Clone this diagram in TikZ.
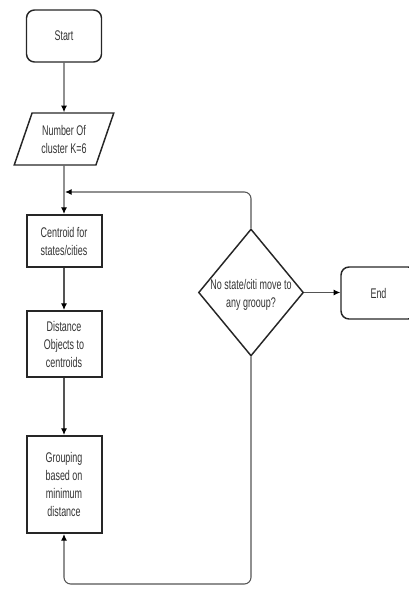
\documentclass[tikz,border=0pt]{standalone}
\usepackage{fontspec}
\usepackage{tikz}
\usepackage{xcolor}
\usetikzlibrary{arrows.meta,calc,positioning,shapes,shapes.geometric}
\newfontfamily\flowfont[FakeStretch=0.64]{Liberation Sans}
\definecolor{linegray}{rgb}{0.33,0.33,0.33}
\definecolor{textgray}{rgb}{0.2,0.2,0.2}

\begin{document}
\begin{tikzpicture}[x=0.75pt,y=-0.75pt]
        \tikzstyle{txt}=[font=\flowfont\fontsize{10.5}{13.5}\selectfont,%
          text=textgray,align=center,inner sep=0pt]
        \tikzstyle{terminal}=[txt,draw=black!85,line width=1.1pt,rounded corners=6pt,%
          minimum width=56.25pt,minimum height=39pt]
        \tikzstyle{io}=[txt,trapezium,draw=black!85,line width=1.1pt,%
          trapezium left angle=66,trapezium right angle=114,trapezium stretches=true,%
          minimum width=75pt,minimum height=39pt]
        \tikzstyle{process}=[txt,draw=black!85,line width=1.5pt,minimum width=56.25pt]
        \tikzstyle{decision}=[diamond,draw=black!85,line width=1.1pt,inner sep=0pt,%
          minimum width=78.75pt,minimum height=95.25pt]
        \tikzstyle{flow}=[draw=linegray,line width=0.8pt,rounded corners=5pt,%
          -{Latex[length=5pt,width=4.5pt,color=black]}]

      \useasboundingbox (0,0) rectangle (409,613);

      \node[terminal] (start) at (64,36) {Start};
      \node[io] (num) at (64,139) {Number Of\\cluster K=6};
      \node[process,minimum height=39pt] (cent) at (64,241) {Centroid for\\states/cities};
      \node[process,minimum height=49.5pt] (dist) at (64,344) {Distance\\Objects to\\centroids};
      \node[process,minimum height=72.75pt] (group) at (64,484.5) {Grouping\\based on\\minimum\\distance};
      \node[decision] (dec) at (251,292.5) {};
      \node[txt] (dectext) at (251,295) {No state/citi move to\\any grooup?};
      \node[terminal] (stop) at (378.5,293) {End};

      \coordinate (join) at (65,192);
      \coordinate (loop) at (64,584);

      \path [flow] (start) -- (num);
      \path [flow] (num) -- (cent);
      \path [flow] (cent) -- (dist);
      \path [flow] (dist) -- (group);
      \path [flow] (dec.north) |- (join);
      \path [flow] (dec.south) |- (loop) -- (group.south);
      \path [flow] (dec.east) -- (stop.west |- dec.east);
\end{tikzpicture}
\end{document}
